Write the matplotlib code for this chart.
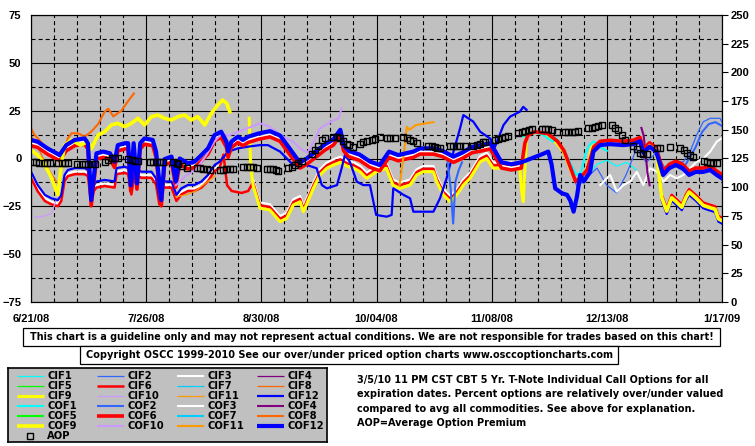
import numpy as np
import matplotlib
matplotlib.use('Agg')
import matplotlib.pyplot as plt
from matplotlib.ticker import MultipleLocator, FixedLocator
from matplotlib.patches import Rectangle

nan = float('nan')
W, H = 755, 446
FONT = ['Liberation Sans', 'DejaVu Sans']
TEXT_FONT = ['DejaVu Sans']

# x axis: days after 6/21/08, labelled every 5 weeks
date_ticks = [0, 35, 70, 105, 140, 175, 210]
date_labels = ['6/21/08', '7/26/08', '8/30/08', '10/04/08', '11/08/08', '12/13/08', '1/17/09']
left_ticks = [-75, -50, -25, 0, 25, 50, 75]
right_ticks = [0, 25, 50, 75, 100, 125, 150, 175, 200, 225, 250]

# (day, percent) pairs
cif1 = [(166, -12), (169, -9), (172, -3), (175, -1), (178, -4), (181, -2), (184, -6)]
cif2 = [(150, 12), (154, 14), (158, 11), (161, 6), (164, -6), (166, -15), (169, -10), (172, -5),
        (175, -14), (178, -18), (181, -8), (184, 5), (187, -2), (190, 3), (193, -6), (196, -2),
        (198.3, -1.7), (200.3, 3.6), (202.3, 12.3), (204.3, 19.2), (206.4, 21), (209.4, 21), (210, 19)]
cif3 = [(0, -8.7), (2, -15.6), (4.2, -20.8), (6.2, -22.6), (8.2, -23.5), (9.2, -20.8), (10.2, -10.4),
        (11.2, -7.8), (13.3, -6.8), (16.3, -6.8), (17.3, -7.8), (18.3, -22.6), (19, -15.8), (19.9, -13.8),
        (22.4, -13), (25.4, -13.8), (26, -6.8), (28.5, -6.1), (29.5, -6.8), (30.5, -17.4), (31.5, -6.8),
        (33.5, -8.7), (36.6, -8.7), (38, -12.2), (39, -22.6), (40, -13.8), (42.7, -13.8), (44.2, -20.8),
        (45.7, -17.4), (47.7, -15.6), (49.7, -15.6), (51.8, -13.8), (53.8, -10.4), (55.8, -5.2), (57.3, -3.5),
        (60, nan),
        (67.5, -11), (69.6, -23), (72.6, -23.9), (75.7, -30), (77.7, -28.3), (79.7, -21.3), (81.8, -19.6),
        (82.8, -24.8), (85.8, -12.6), (87.8, -5.6), (89.9, -2.1), (91.9, -0.4), (94, 1), (96, -1), (98, -2),
        (100, -3.9), (102, -7.4), (105, -3.9), (108, -2.1), (110, -10.9), (112, -12.6), (115.2, -10.9),
        (117.2, -5.6), (119.2, -3.9), (122.3, -3.9), (123.3, -9.1), (125.3, -16), (127.4, -19.6),
        (129.4, -16), (131.4, -10.9), (133.4, -7.4), (136.5, 1.3), (138.5, 3), (140.5, -2.1), (143, -2),
        (146, -2), (148.6, -3),
        (160, nan),
        (173, -13.9), (176, -8.6), (178, -17.3), (180, -13.9), (182.1, -12.1), (184.1, -6.9), (186.1, -13.9),
        (188.1, -5.1), (190.2, -6.9), (192.2, -12.1), (194.2, -8.6), (196.2, -10.4), (198.3, -8.6),
        (200.3, -5.1), (202.3, -1.7), (204.3, 0), (206.4, 3.6), (208.4, 8.8), (209.9, 10.5)]
cif4 = []
cif5 = []
cif6 = [(0, -10.1), (2, -17), (4.2, -22.2), (6.2, -24), (8.2, -24.9), (9.2, -22.2), (10.2, -11.8),
        (11.2, -9.2), (13.3, -8.2), (16.3, -8.2), (17.3, -9.2), (18.3, -24), (19, -17.2), (19.9, -15.2),
        (22.4, -14.4), (25.4, -15.2), (26, -8.2), (28.5, -7.5), (29.5, -8.2), (30.5, -18.8), (31.5, -8.2),
        (33.5, -10.1), (36.6, -10.1), (38, -13.6), (39, -24), (40, -15.2), (42.7, -15.2), (44.2, -22.2),
        (45.7, -18.8), (47.7, -17), (49.7, -17), (51.8, -15.2), (53.8, -11.8), (55.8, -6.6), (57.3, -4.9),
        (58.5, 2), (59.6, -14), (61, -17), (64, -18), (66, -17), (67.5, -12.5),
        (69.6, -24.5), (72.6, -25.4), (75.7, -31.5), (77.7, -29.8), (79.7, -22.8), (81.8, -21.1),
        (82.8, -26.3), (85.8, -14.1), (87.8, -7.1), (89.9, -3.6), (91.9, -1.9), (94, -0.5), (96, -2.5),
        (98, -3.5), (100, -5.4), (102, -8.9), (105, -5.4), (108, -3.6), (110, -12.4), (112, -14.1),
        (115.2, -12.4), (117.2, -7.1), (119.2, -5.4), (122.3, -5.4), (123.3, -10.6), (125.3, -17.5),
        (127.4, -21.1), (129.4, -17.5), (131.4, -12.4), (133.4, -8.9), (136.5, -0.2), (138.5, 1.5),
        (140.5, -3.6), (143, -3.5), (146, -3.5), (148.6, -4.5),
        (170, nan),
        (188, 7), (190, 5), (191.7, -19), (193.2, -26), (194.7, -19), (196, -21), (197.8, -24), (199, -19),
        (200, -16), (202, -19), (204.3, -23), (206, -24), (207.9, -25), (208.9, -30), (210, -31)]
cif7 = []
cif8 = [(0, 12), (2.1, 6), (4.2, -2), (6.2, -8), (7.7, -12), (8.7, -14)]
cif9 = [(66.3, 21), (66.8, -5), (67.5, -14), (69.6, -26), (72.6, -26.9), (75.7, -33), (77.7, -31.3),
        (79.7, -24.3), (81.8, -22.6), (82.8, -27.8), (85.8, -15.6), (87.8, -8.6), (89.9, -5.1), (91.9, -3.4),
        (94, -2), (96, -4), (98, -5), (100, -6.9), (102, -10.4), (105, -6.9), (108, -5.1), (110, -13.9),
        (112, -15.6), (115.2, -13.9), (117.2, -8.6), (119.2, -6.9), (122.3, -6.9), (123.3, -12.1),
        (125.3, -19), (127.4, -22.6), (129.4, -19), (131.4, -13.9), (133.4, -10.4), (136.5, -1.7),
        (138.5, 0), (140.5, -5.1), (143, -5), (146, -5), (148.6, -6), (149.1, -17), (149.6, -22.6),
        (150.1, -5), (150.6, 12.3), (152.7, 14), (156.7, 12.3), (159.8, 7.9), (161.8, 3.6), (163.8, -5),
        (165.4, -12), (166.9, -10), (168.9, -6), (170.4, 6), (172.9, 8)]
cif10 = [(1, -30.5), (3, -30.5), (5, -29.5), (6.2, -28.7), (7.2, -24), (8.2, -20)]
cif11 = [(44, -20), (47, -19), (50, -17), (53, -13), (56, -9)]
cif12 = [(0, -6.9), (2, -13.8), (4.2, -19), (6.2, -20.8), (8.2, -21.7), (9.2, -19), (10.2, -8.6), (11.2, -6),
         (13.3, -5), (16.3, -5), (17.3, -6), (18.3, -20.8), (19, -14), (19.9, -12), (22.4, -11.2), (25.4, -12),
         (26, -5), (28.5, -4.3), (29.5, -5), (30.5, -15.6), (31.5, -5), (33.5, -6.9), (36.6, -6.9), (38, -10.4),
         (39, -20.8), (40, -12), (42.7, -12), (44.2, -19), (45.7, -15.6), (47.7, -13.8), (49.7, -13.8),
         (51.8, -12), (53.8, -8.6), (55.8, -3.4), (57.3, -1.7), (59.9, 3.6), (62.9, 5.3), (66, 6.2),
         (69.6, 7), (72, 7), (75.7, 3.6), (79.7, -3.4), (83.8, -3.4), (86.8, -5.1), (88.4, -13.9),
         (89.9, -15.6), (93, -13.9), (94.4, -5.1), (95.4, 1.8), (96.9, -1.7), (99, -12.1), (101, -13.9),
         (103, -13.9), (104.9, -29.5), (108.1, -30.4), (109.6, -29.5), (110.1, -15.6), (113.2, -19),
         (115.2, -20.8), (116.2, -27.8), (122.3, -27.8), (124.3, -20.8), (126.3, -10.4), (128.4, 3.6),
         (130.4, 15.8), (131.4, 22.7), (134.4, 19.3), (136.5, 14), (139.5, 10.5), (141, 6), (143.6, 17.5),
         (145.6, 21.9), (148.6, 24.5), (149.6, 27), (150.6, 25.4),
         (170, nan),
         (188, 6), (190, 3.6), (191.7, -22), (193.2, -29), (194.7, -22), (196, -24), (197.8, -27), (199, -22),
         (200, -19), (202, -22), (204.3, -26), (206, -27), (207.9, -28), (208.9, -33), (210, -34)]

cof1 = [(149.6, 11.4), (152.6, 14), (155.6, 12.3), (158.7, 8.8), (159.7, 10.5), (162.7, 1.8), (164.7, -5),
        (165.7, -8.6), (167.2, -7), (168.7, 3.6), (169.7, 7), (171, 9), (173, 6), (175, 4)]
cof2 = [(126.5, 0), (127.5, -15), (128.3, -34), (129, -12), (130, -6), (131, -2),
        (160, nan),
        (196, -4), (198, -6), (200, 0), (202, 6), (204, 14), (206, 18), (208, 19), (210, 17)]
cof3 = [(0, 7.9), (2, 7), (5, 3.5), (8.7, 0), (10.7, 5.2), (13.3, 7.9), (16.3, 8.7), (17.3, 6.2), (18.3, -23.5),
        (19.9, 0.9), (22, 1.8), (24, 0.9), (25.4, -3.5), (26.4, 5.2), (28.5, 6.2), (29.5, 6.2), (30.3, -15.8),
        (31.2, 6.2), (32.2, -14.8), (33.2, 6.2), (34.5, 8.7), (37, 7.9), (38, 1.8), (39.6, -23.5), (40.6, -2.1),
        (42.7, -0.8), (44, -13.8), (45.2, -1.8), (47.7, -4.3), (49.7, -3.5), (51.8, 0), (53.8, 3.5),
        (55.8, 10.5), (57.8, 12.2), (59.4, 7), (59.9, 1.8), (60.9, 7), (62.9, 9.6), (64.4, 7.9), (66, 9.6),
        (69, 11.2), (72.6, 12.5), (75.7, 10.2), (78.7, 3.2), (80.8, -1.8), (81.8, -3.8), (83.8, -1.8),
        (86.8, 2.2), (89.4, 5.7), (91.9, 8.2), (94, 13.2), (95, 5.2), (96.5, 2.2), (99.9, 0.2), (103, -3.4),
        (106, -5.2), (108.8, 1.8), (111.6, 0), (116.2, 1.8), (118.2, 3.5), (122.3, 3.5), (125, 2.2),
        (128.4, -0.8), (131, 1.2), (134, 4.2), (137, 5.2), (139.5, 6.2), (141, 2.2), (143, -3.8), (146, -4.8),
        (149, -3.8)]
cof4 = [(185.5, 16), (186.2, 12), (186.8, 2), (187.4, -8), (188, -14)]
cof5 = []
cof6 = [(0, 6.7), (2, 5.8), (5, 2.3), (8.7, -1.2), (10.7, 4), (13.3, 6.7), (16.3, 7.5), (17.3, 5), (18.3, -24.7),
        (19.9, -0.3), (22, 0.6), (24, -0.3), (25.4, -4.7), (26.4, 4), (28.5, 5), (29.5, 5), (30.3, -17),
        (31.2, 5), (32.2, -16), (33.2, 5), (34.5, 7.5), (37, 6.7), (38, 0.6), (39.6, -24.7), (40.6, -3.3),
        (42.7, -2), (44, -15), (45.2, -3), (47.7, -5.5), (49.7, -4.7), (51.8, -1.2), (53.8, 2.3), (55.8, 9.3),
        (57.8, 11), (59.4, 5.8), (59.9, 0.6), (60.9, 5.8), (62.9, 8.4), (64.4, 6.7), (66, 8.4), (69, 10),
        (72.6, 11.3), (75.7, 9), (78.7, 2), (80.8, -3), (81.8, -5), (83.8, -3), (86.8, 1), (89.4, 4.5),
        (91.9, 7), (94, 12), (95, 4), (96.5, 1), (99.9, -1), (103, -4.6), (106, -6.4), (108.8, 0.6),
        (111.6, -1.2), (116.2, 0.6), (118.2, 2.3), (122.3, 2.3), (125, 1), (128.4, -2), (131, 0), (134, 3),
        (137, 4), (139.5, 5), (141, 1), (143, -5), (146, -6), (149, -5),
        (150.1, 8), (151, 12), (153, 14), (157, 13), (160, 9), (162, 4), (164, -5), (165.5, -12), (167, -10),
        (169, -6), (171, 6), (173, 9), (176, 9.5), (180, 9), (183, 9.5), (185.1, 11), (186.1, 5), (188, 8.2),
        (190, 5.6), (192.1, -6.6), (194, -3), (196, -1.4), (198, -3), (200, -6.6), (202, -5), (204.3, -5),
        (206.4, -4), (208.4, -6.6), (210, -8.4)]
cof7 = []
cof8 = [(0, 15.8), (1.1, 12.3), (2.1, 10.5), (4.2, 6.2), (6.2, 4.4), (8.7, 2.7), (10.2, 5.3), (11.2, 10.5),
        (12.3, 13.2), (14.3, 13.2), (16.3, 11.4), (18.3, 14), (20.4, 18), (22.4, 24.5), (23.5, 26), (25, 22),
        (27.5, 25), (29.5, 30), (31.3, 34)]
cof9 = [(0, 4.4), (2, 1.8), (4, -2.5), (6.2, -10), (8.2, -19), (9.2, -3.4), (10.2, 7), (12.3, 9.7), (15, 7),
        (17.3, 8.8), (18.3, 5), (20.4, 12.3), (22.4, 14), (24.4, 17.5), (26.4, 18.4), (28.5, 16.6),
        (30.5, 18.4), (32.5, 21), (34.5, 17.5), (36.6, 21.9), (38.6, 22.7), (40.6, 21), (42.7, 20.1),
        (44.7, 21.9), (46.7, 22.7), (48.7, 20.1), (50.7, 21.9), (52.8, 17.5), (54.8, 23.6), (56.8, 28),
        (58.2, 30.6), (59.5, 28.8), (60.4, 24.5),
        (120, nan),
        (188, 6.5), (190, 4), (191.7, -20.5), (193.2, -27.5), (194.7, -20.5), (196, -22.5), (197.8, -25.5),
        (199, -20.5), (200, -17.5), (202, -20.5), (204.3, -24.5), (206, -25.5), (207.9, -26.5),
        (208.9, -31.5), (210, -32.5)]
cof10 = [(44, -14), (47, -9), (50, -6), (53, 1), (55.8, 9), (58, 13), (60, 12), (63, 14), (66, 16),
         (69.6, 18.4), (72, 17), (74.7, 14), (77, 11), (79.7, 8.8), (82, 5), (84, 3), (86, 9), (87.8, 15.8),
         (90, 18), (92, 20), (93.5, 21), (94.4, 26.2)]
cof11 = [(112, -14), (113.5, 5), (114.2, 16.6), (115, 15), (117, 17.5), (120, 18.4), (122.3, 19)]
cof12 = [(0, 9.7), (2, 8.8), (5, 5.3), (8.7, 1.8), (10.7, 7), (13.3, 9.7), (16.3, 10.5), (17.3, 8), (18.3, -21.7),
         (19.9, 2.7), (22, 3.6), (24, 2.7), (25.4, -1.7), (26.4, 7), (28.5, 8), (29.5, 8), (30.3, -14), (31.2, 8),
         (32.2, -13), (33.2, 8), (34.5, 10.5), (37, 9.7), (38, 3.6), (39.6, -21.7), (40.6, -0.3), (42.7, 1),
         (44, -12), (45.2, 0), (47.7, -2.5), (49.7, -1.7), (51.8, 1.8), (53.8, 5.3), (55.8, 12.3), (57.8, 14),
         (59.4, 8.8), (59.9, 3.6), (60.9, 8.8), (62.9, 11.4), (64.4, 9.7), (66, 11.4), (69, 13), (72.6, 14.3),
         (75.7, 12), (78.7, 5), (80.8, 0), (81.8, -2), (83.8, 0), (86.8, 4), (89.4, 7.5), (91.9, 10), (94, 15),
         (95, 7), (96.5, 4), (99.9, 2), (103, -1.6), (106, -3.4), (108.8, 3.6), (111.6, 1.8), (116.2, 3.6),
         (118.2, 5.3), (122.3, 5.3), (125, 4), (128.4, 1), (131, 3), (134, 6), (137, 7), (139.5, 8), (141, 4),
         (143, -2), (146, -3), (149, -2), (152, 0), (155, 2), (157.2, 3.6), (158.2, -3), (159.3, -15.6),
         (161.4, -18.2), (162.9, -19), (163.9, -22), (164.9, -27.8), (165.9, -20), (166.9, -8.6), (168, -12),
         (169.9, -7), (170.9, 3.6), (172.9, 7), (176, 7.5), (180, 7), (183, 7.5), (185.1, 9), (186.1, 3),
         (188, 6.2), (190, 3.6), (192.1, -8.6), (194, -5), (196, -3.4), (198, -5), (200, -8.6), (202, -7),
         (204.3, -7), (206.4, -6), (208.4, -8.6), (210, -10.4)]

# average option premium, right axis
aop = [(0.5, 122.2), (1.5, 122), (2.5, 121.5), (4, 121), (5, 120.8), (5.8, 120.8), (8.3, 121.3), (9.3, 121.3),
       (10.3, 121), (11.3, 120.8), (14, 120.5), (15.4, 120.2), (16.4, 120.2), (17.4, 120), (18.5, 120.2),
       (19.5, 120.2), (22.5, 122.2), (23.5, 124), (24.5, 125), (25.5, 125.1), (26.5, 125.1), (29.6, 124.3),
       (30.6, 123.5), (31.6, 123), (32.6, 122.8), (36.2, 122.2), (37.2, 122.2), (38.2, 122), (39.2, 121.7),
       (40.2, 121.7), (43.3, 121.7), (44.3, 121), (44.8, 120.2), (45.8, 118.5), (47.3, 117), (50.4, 116.8),
       (51.4, 116.5), (52.4, 116), (53.4, 115.5), (54.4, 115), (57.4, 115), (58.4, 115.2), (59.4, 115.5),
       (60.5, 115.7), (61.5, 115.9), (64.5, 117.5), (65.5, 117.9), (66.6, 117.6), (67.6, 117.3), (68.6, 116.5),
       (71.6, 116), (72.6, 115.9), (73.6, 115.5), (74.6, 115), (75.2, 114.4), (78.2, 116.5), (79.2, 118),
       (80.2, 119.3), (81.2, 121), (82.3, 122.8), (85.3, 128.9), (86.3, 132), (87.3, 136.2), (88.4, 141.1),
       (89.4, 142.5), (91.9, 144), (92.9, 143.5), (93.9, 142.6), (94.9, 140), (95.9, 138), (96.5, 136.7),
       (98, 135.3), (100, 138), (101, 139.6), (102, 140.3), (103.5, 141.1), (104.5, 142), (106.1, 143.4),
       (108.1, 143), (109.1, 142.8), (110.6, 142.6), (113.2, 144), (114.2, 143), (115.2, 141.5), (116.2, 140),
       (117.2, 138.8), (120.8, 135.9), (121.8, 135.5), (122.8, 135), (123.3, 134.5), (124.3, 133.9),
       (127.4, 135.9), (128.4, 135.9), (129.4, 135.9), (130.4, 135.9), (131.9, 135.9), (134.4, 136.2),
       (135.4, 137), (136.4, 138), (137.4, 139), (138, 139.6), (141, 141.5), (142, 142), (143, 142.6),
       (144, 143.5), (145, 144.3), (148.1, 146.9), (149.1, 148), (150.1, 149), (151.2, 150), (152.2, 150.7),
       (155.2, 150.7), (156.2, 150.7), (157.2, 150.7), (158.2, 149.5), (159.8, 148.3), (162.3, 147.8),
       (163.3, 147.8), (164.3, 147.8), (165.3, 147.8), (166.3, 149), (169.4, 151.3), (170.4, 152),
       (171.4, 152.8), (172.4, 153.5), (173.5, 154.2), (176.5, 154.2), (177.5, 152), (178.5, 149.8),
       (179.5, 145.5), (180.5, 141.1), (183.1, 136.2), (184.1, 133), (185.1, 129.5), (186.1, 129),
       (187.1, 129), (190.2, 134), (191.2, 134), (194.2, 135.3), (197.3, 134.4), (198.3, 132), (199.3, 130),
       (200.3, 128), (201.3, 126), (204.4, 122.8), (205.4, 122), (206.4, 121.5), (207.4, 121), (208.4, 120.8)]

# label, data, colour, width (pt)
series = [
    ('CIF1', cif1, '#00FFFF', 0.9), ('CIF2', cif2, '#3366FF', 0.9), ('CIF3', cif3, '#FFFFFF', 1.5),
    ('CIF4', cif4, '#800080', 0.9), ('CIF5', cif5, '#00FF00', 0.9), ('CIF6', cif6, '#FF0000', 1.8),
    ('CIF7', cif7, '#00CCFF', 0.9), ('CIF8', cif8, '#FF6600', 0.9), ('CIF9', cif9, '#FFFF00', 2.2),
    ('CIF10', cif10, '#CC99FF', 0.9), ('CIF11', cif11, '#FF9900', 0.9), ('CIF12', cif12, '#0000FF', 1.6),
    ('COF1', cof1, '#00FFFF', 1.5), ('COF2', cof2, '#3366FF', 1.5), ('COF3', cof3, '#FFFFFF', 1.5),
    ('COF4', cof4, '#800080', 1.5), ('COF5', cof5, '#00FF00', 1.5), ('COF6', cof6, '#FF0000', 2.6),
    ('COF7', cof7, '#00CCFF', 1.5), ('COF8', cof8, '#FF6600', 1.5), ('COF9', cof9, '#FFFF00', 2.6),
    ('COF10', cof10, '#CC99FF', 1.5), ('COF11', cof11, '#FF9900', 1.5), ('COF12', cof12, '#0000FF', 3.0),
]

plt.rcParams['font.family'] = FONT
plt.rcParams['font.weight'] = 'bold'

fig = plt.figure(figsize=(W / 100, H / 100), dpi=100)
fig.patch.set_facecolor('white')


def fx(x):
    return x / W


def fy(y):
    return 1 - y / H


ax = fig.add_axes([fx(31), fy(302), (722 - 31) / W, (302 - 15) / H])
ax.set_facecolor('#C0C0C0')
ax.set_xlim(0, 210)
ax.set_ylim(-75, 75)

handles = {}
for name, pts, color, lw in series:
    d = [p[0] for p in pts]
    v = [p[1] for p in pts]
    line, = ax.plot(d, v, color=color, lw=lw, label=name, solid_joinstyle='round')
    handles[name] = line

# grid: solid at labelled ticks, dashed in between
ax.xaxis.set_major_locator(FixedLocator(date_ticks))
ax.set_xticklabels(date_labels)
ax.xaxis.set_minor_locator(MultipleLocator(7))
ax.yaxis.set_major_locator(FixedLocator(left_ticks))
ax.yaxis.set_minor_locator(MultipleLocator(12.5))
ax.set_axisbelow(True)
ax.grid(True, which='major', color='black', lw=0.8, ls='-')
ax.grid(True, which='minor', color='black', lw=0.8, ls=(0, (3.6, 2.8)))
ax.tick_params(which='both', length=0)
ax.tick_params(axis='y', pad=7, labelsize=8)
ax.tick_params(axis='x', pad=9, labelsize=8)
for lab in ax.get_xticklabels() + ax.get_yticklabels():
    lab.set_fontweight('bold')
for sp in ax.spines.values():
    sp.set_color('black')
    sp.set_linewidth(0.8)

ax2 = ax.twinx()
ax2.set_ylim(0, 250)
ax2.yaxis.set_major_locator(FixedLocator(right_ticks))
ax2.tick_params(axis='y', direction='out', length=4, width=0.8, pad=2, labelsize=8)
for lab in ax2.get_yticklabels():
    lab.set_fontweight('bold')
ad = [p[0] for p in aop]
av = [p[1] for p in aop]
aop_line, = ax2.plot(ad, av, ls='none', marker='s', ms=4.6, mfc='none', mec='black', mew=1.0, label='AOP')
handles['AOP'] = aop_line


# boxed notes under the chart
def boxed(x0, y0, x1, y1, text, size):
    fig.add_artist(Rectangle((fx(x0), fy(y1)), fx(x1) - fx(x0), fy(y0) - fy(y1), transform=fig.transFigure,
                             facecolor='white', edgecolor='black', lw=0.9))
    fig.text(fx((x0 + x1) / 2), fy((y0 + y1) / 2), text, ha='center', va='center', fontsize=size,
             fontweight='bold', family=TEXT_FONT)


boxed(23, 328, 720, 346,
      'This chart is a guideline only and may not represent actual conditions. '
      'We are not responsible for trades based on this chart!', 6.95)
boxed(80, 346, 618, 364,
      'Copyright OSCC 1999-2010 See our over/under priced option charts www.osccoptioncharts.com', 7.0)

note_lines = ['3/5/10 11 PM CST CBT 5 Yr. T-Note Individual Call Options for all',
              'expiration dates. Percent options are relatively over/under valued',
              'compared to avg all commodities. See above for explanation.',
              'AOP=Average Option Premium']
for i, t in enumerate(note_lines):
    fig.text(fx(357), fy(380 + i * 14.4), t, ha='left', va='center', fontsize=7.0, fontweight='bold',
             family=TEXT_FONT)

# legend box, laid out row by row like the original
lg = fig.add_axes([fx(8), fy(442), (327 - 8) / W, (442 - 368) / H])
lg.set_facecolor('#C0C0C0')
lg.set_xlim(8, 327)
lg.set_ylim(442, 368)
lg.set_xticks([])
lg.set_yticks([])
for sp in lg.spines.values():
    sp.set_linewidth(1.2)
col_x = [17, 97, 177, 257]
order = [s[0] for s in series] + ['AOP']
for k, name in enumerate(order):
    r, c = divmod(k, 4)
    yy = 376 + r * 10
    h = handles[name]
    if name == 'AOP':
        lg.plot([col_x[c] + 13], [yy], ls='none', marker='s', ms=4.6, mfc='none', mec='black', mew=1.0)
    else:
        lg.plot([col_x[c], col_x[c] + 27], [yy, yy], color=h.get_color(), lw=h.get_linewidth(),
                solid_capstyle='butt')
    lg.text(col_x[c] + 30, yy, name, ha='left', va='center', fontsize=7.2, fontweight='bold',
            family=TEXT_FONT)

fig.savefig('out.png', dpi=100)
